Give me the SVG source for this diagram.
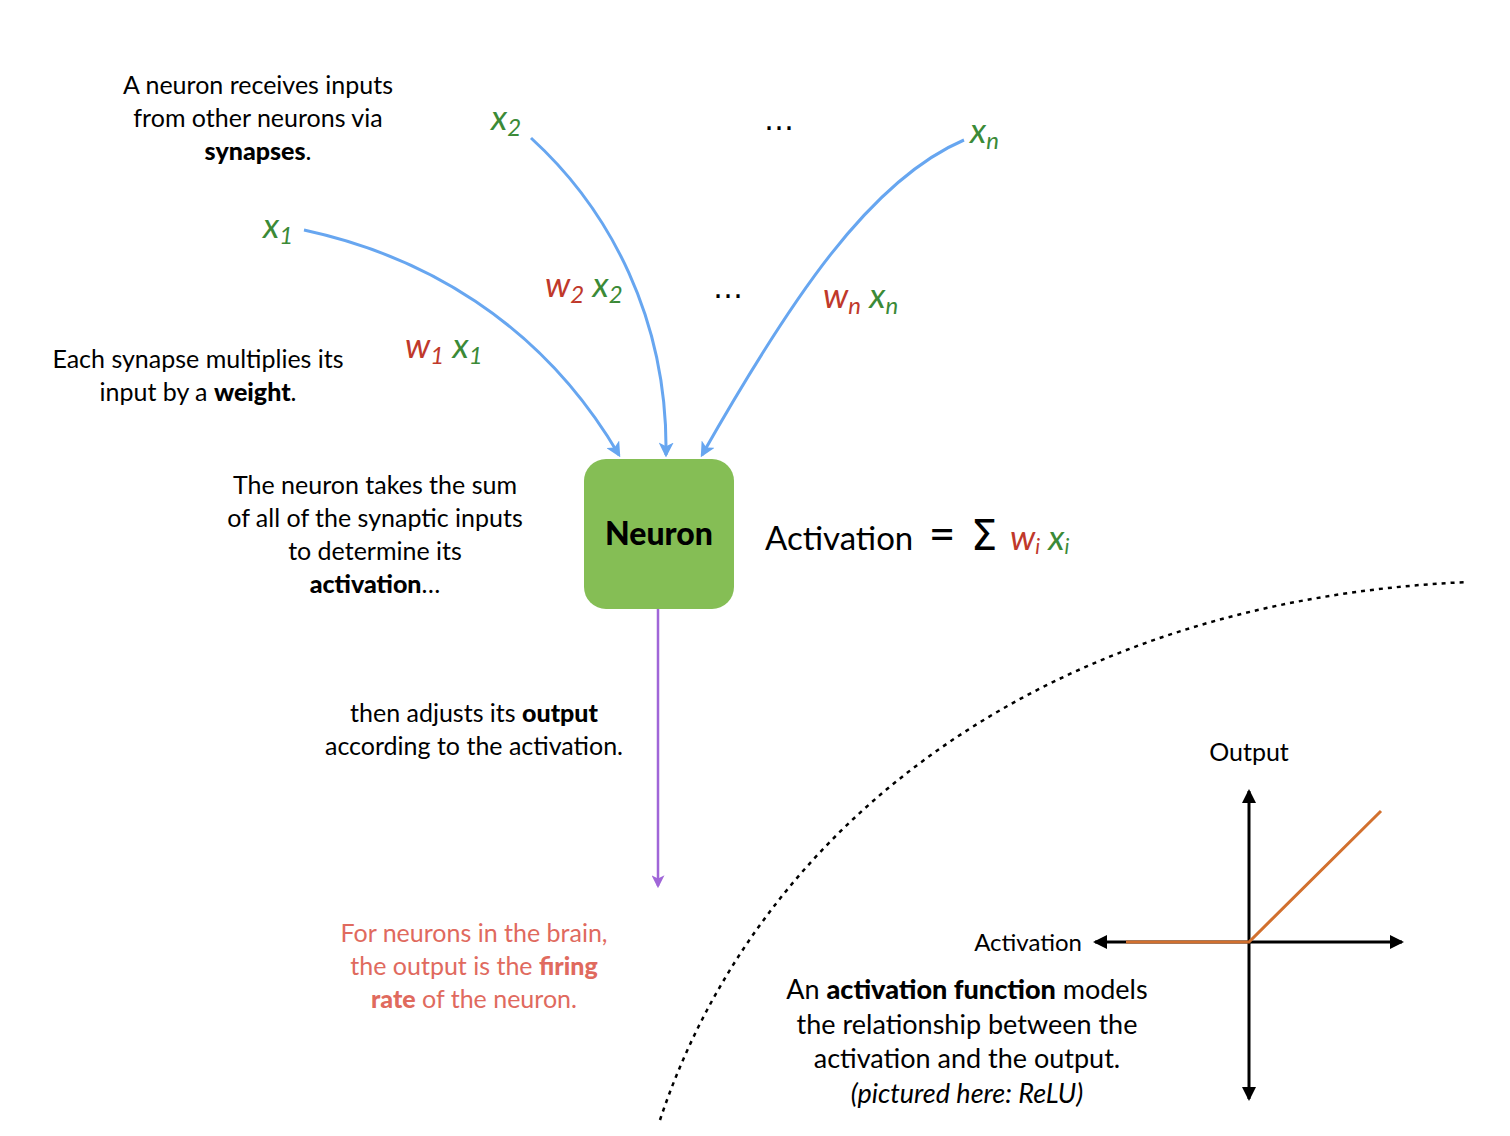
<svg xmlns="http://www.w3.org/2000/svg" width="1510" height="1136" viewBox="0 0 1510 1136">
<defs>
<style>
.t{font-family:Lato,"Noto Sans",sans-serif;font-size:25px;fill:#000;text-anchor:middle}
.b{font-weight:900}
.v{font-family:Lato,"Noto Sans",sans-serif;font-style:italic;font-size:35px}
.g{fill:#3B8A37}
.r{fill:#C0392B}
.red{fill:#E06A5E}
.dots{font-family:"DejaVu Sans",sans-serif;font-size:30px;text-anchor:middle}
.syn{fill:none;stroke:#67A6F0;stroke-width:3}
</style>
<marker id="ab" viewBox="0 0 12 12" refX="10" refY="6" markerWidth="15" markerHeight="15" markerUnits="userSpaceOnUse" orient="auto"><path d="M0,0 L12,6 L0,12 L3,6 Z" fill="#67A6F0"/></marker>
<marker id="ap" viewBox="0 0 12 12" refX="10" refY="6" markerWidth="13" markerHeight="13" markerUnits="userSpaceOnUse" orient="auto"><path d="M0,0 L12,6 L0,12 L3,6 Z" fill="#A066D8"/></marker>
<marker id="ak" viewBox="0 0 14 14" refX="12" refY="7" markerWidth="14" markerHeight="14" markerUnits="userSpaceOnUse" orient="auto"><path d="M0,0 L14,7 L0,14 Z" fill="#000"/></marker>
</defs>
<rect width="1510" height="1136" fill="#fff"/>
<g id="connectors">
<path class="syn" d="M304,230 C420,255 540,320 619,455" marker-end="url(#ab)"/>
<path class="syn" d="M531,138 C610,210 668,320 666,455" marker-end="url(#ab)"/>
<path class="syn" d="M964,140 C870,180 790,300 702,455" marker-end="url(#ab)"/>
<line x1="658" y1="609" x2="658" y2="886" stroke="#A066D8" stroke-width="2.5" marker-end="url(#ap)"/>
</g>
<g id="neuron">
<rect x="584" y="459" width="150" height="150" rx="22" fill="#85BE55"/>
<text x="659" y="545" class="t b" style="font-size:32px">Neuron</text>
</g>
<g id="inputs">
<text x="263" y="238" class="v g">x<tspan font-size="24" dy="6">1</tspan></text>
<text x="491" y="130" class="v g">x<tspan font-size="24" dy="6">2</tspan></text>
<text x="970" y="143" class="v g">x<tspan font-size="24" dy="6">n</tspan></text>
<text x="779" y="130" class="dots">…</text>
<text x="728" y="298" class="dots">…</text>
<text x="405" y="358" class="v"><tspan class="r">w</tspan><tspan class="r" font-size="24" dy="6">1</tspan><tspan class="g" dy="-6"> x</tspan><tspan class="g" font-size="24" dy="6">1</tspan></text>
<text x="545" y="297" class="v"><tspan class="r">w</tspan><tspan class="r" font-size="24" dy="6">2</tspan><tspan class="g" dy="-6"> x</tspan><tspan class="g" font-size="24" dy="6">2</tspan></text>
<text x="823" y="308" class="v"><tspan class="r">w</tspan><tspan class="r" font-size="24" dy="6">n</tspan><tspan class="g" dy="-6"> x</tspan><tspan class="g" font-size="24" dy="6">n</tspan></text>
</g>
<g id="formula">
<text x="765" y="550" font-family="Lato,'Noto Sans',sans-serif" font-size="33">Activation</text>
<text x="942" y="550" font-family="Lato,'Noto Sans',sans-serif" font-size="46" text-anchor="middle">=</text>
<text x="984" y="550" font-family="'DejaVu Sans',sans-serif" font-size="42" text-anchor="middle">Σ</text>
<text x="1010" y="550" class="v"><tspan class="r">w</tspan><tspan class="r" font-size="21" dy="4">i</tspan><tspan class="g" dy="-4"> x</tspan><tspan class="g" font-size="21" dy="4">i</tspan></text>
</g>
<g id="notes">
<text class="t" x="258" y="94">A neuron receives inputs</text>
<text class="t" x="258" y="127">from other neurons via</text>
<text class="t" x="258" y="160"><tspan class="b">synapses</tspan>.</text>
<text class="t" x="198" y="368">Each synapse multiplies its</text>
<text class="t" x="198" y="401">input by a <tspan class="b">weight</tspan>.</text>
<text class="t" x="375" y="494">The neuron takes the sum</text>
<text class="t" x="375" y="527">of all of the synaptic inputs</text>
<text class="t" x="375" y="560">to determine its</text>
<text class="t" x="375" y="593"><tspan class="b">activation</tspan>…</text>
<text class="t" x="474" y="722">then adjusts its <tspan class="b">output</tspan></text>
<text class="t" x="474" y="755">according to the activation.</text>
<text class="t red" x="474" y="942">For neurons in the brain,</text>
<text class="t red" x="474" y="975">the output is the <tspan class="b">firing</tspan></text>
<text class="t red" x="474" y="1008"><tspan class="b">rate</tspan> of the neuron.</text>
</g>
<g id="relu">
<path d="M660,1120 C760,820 1050,600 1468,582" fill="none" stroke="#000" stroke-width="2.5" stroke-dasharray="4,5"/>
<line x1="1249" y1="942" x2="1249" y2="791" stroke="#000" stroke-width="3" marker-end="url(#ak)"/>
<line x1="1249" y1="942" x2="1249" y2="1099" stroke="#000" stroke-width="3" marker-end="url(#ak)"/>
<line x1="1249" y1="942" x2="1402" y2="942" stroke="#000" stroke-width="3" marker-end="url(#ak)"/>
<line x1="1249" y1="942" x2="1095" y2="942" stroke="#000" stroke-width="3" marker-end="url(#ak)"/>
<polyline points="1126,942 1249,942 1381,811" fill="none" stroke="#D2702E" stroke-width="3"/>
<text class="t" x="1249" y="761">Output</text>
<text class="t" x="1082" y="951" style="text-anchor:end;font-size:24px">Activation</text>
<text class="t" x="967" y="999" style="font-size:27px">An <tspan class="b">activation function</tspan> models</text>
<text class="t" x="967" y="1034" style="font-size:27px">the relationship between the</text>
<text class="t" x="967" y="1068" style="font-size:27px">activation and the output.</text>
<text class="t" x="967" y="1103" style="font-size:27px;font-style:italic">(pictured here: ReLU)</text>
</g>
</svg>
